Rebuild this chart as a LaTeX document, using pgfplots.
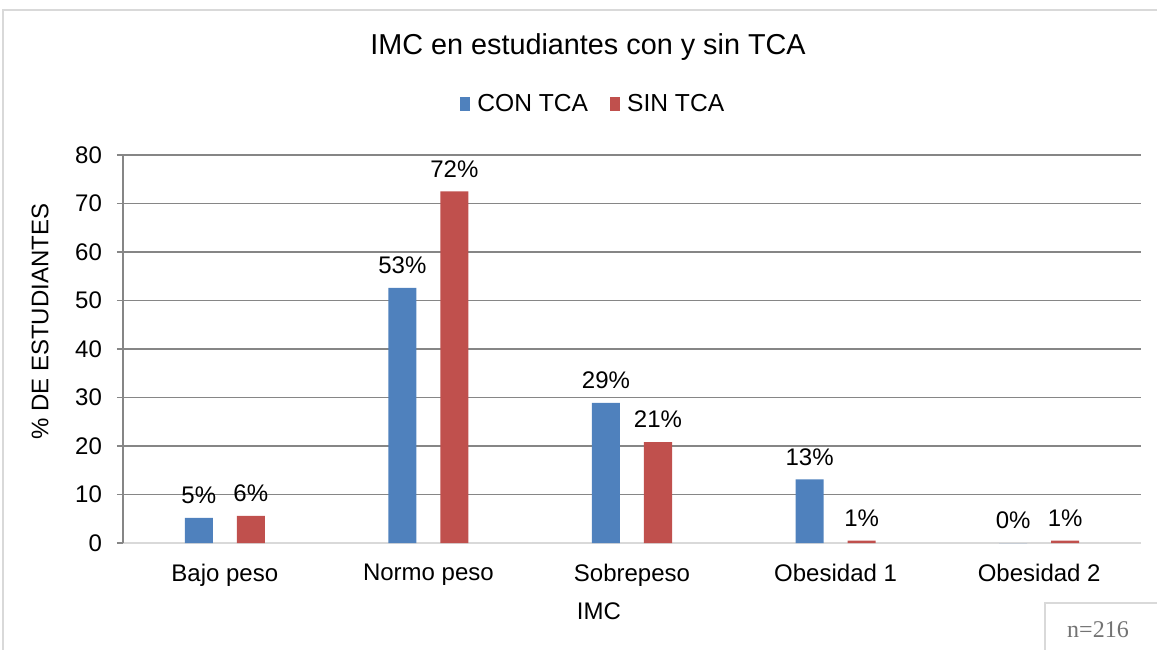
\documentclass[border=0pt]{standalone}
\usepackage{fontspec}
\setmainfont{Liberation Sans}
\newfontfamily\serif{Liberation Serif}
\usepackage{pgfplots}
\pgfplotsset{compat=1.18}
\definecolor{contca}{HTML}{4F81BD}
\definecolor{sintca}{HTML}{C0504D}
\definecolor{gridgray}{HTML}{868686}
\definecolor{framegray}{HTML}{D9D9D9}

\pgfplotsset{sq legend/.style={legend image code/.code={\fill[##1] (0pt,-3.5pt) rectangle (5pt,3.5pt);}}}

\begin{document}
\begin{tikzpicture}
\useasboundingbox (0,0) rectangle (578.5pt,-324.5pt);
\begin{scope}
  \clip (0,0) rectangle (578.5pt,-324.5pt);
  \draw[framegray, line width=0.8pt] (1.5pt,-5pt) rectangle (600pt,-340pt);
  \draw[framegray, line width=0.7pt] (522.5pt,-301.5pt) rectangle (600pt,-340pt);
\end{scope}
\node[font=\serif\fontsize{12}{14}\selectfont, text=black!55] at (549pt,-315pt) {n=216};
\node[font=\fontsize{14.4}{17}\selectfont] at (294pt,-23.5pt) {IMC en estudiantes con y sin TCA};
\begin{axis}[
  at={(61.5pt,-271.5pt)}, anchor=south west,
  width=509pt, height=194pt, scale only axis,
  ybar=12pt, bar width=14pt,
  xmin=-0.5, xmax=4.5, ymin=0, ymax=80,
  xtick={0,...,4},
  xticklabels={Bajo peso, Normo peso, Sobrepeso, Obesidad 1, Obesidad 2},
  ytick={10,20,...,80},
  extra y ticks={0}, extra y tick style={grid=none},
  ymajorgrids, major grid style={gridgray, line width=0.6pt},
  axis x line*=bottom, axis y line*=left,
  x axis line style={framegray, line width=1pt, -},
  y axis line style={gridgray, line width=0.8pt, -},
  tick align=outside, major tick length=3pt,
  xtick style={draw=none},
  ytick style={gridgray, line width=0.8pt},
  tick label style={font=\fontsize{12}{14}\selectfont},
  /pgf/number format/assume math mode=true,
  xticklabel style={yshift=-4pt},
  yticklabel style={xshift=-4pt},
  xlabel={IMC},
  xlabel style={font=\fontsize{12}{14}\selectfont, at={(axis description cs:0.4675,-0.175)}, anchor=center},
  ylabel={\% DE ESTUDIANTES},
  ylabel style={font=\fontsize{12}{14}\selectfont, at={(axis description cs:-0.0815,0.57)}, anchor=center},
  legend style={at={(0.463,1.131)}, anchor=center, draw=none, fill=none,
    legend columns=2, font=\fontsize{12.3}{14}\selectfont,
    /tikz/every odd column/.append style={column sep=1.5pt},
    /tikz/every even column/.append style={column sep=9pt}},
  point meta=explicit symbolic,
  nodes near coords,
  nodes near coords style={font=\fontsize{12}{14}\selectfont, text=black, anchor=south, yshift=3.5pt},
]
\addplot[fill=contca, draw=none, sq legend] coordinates {
  (0,5.2) [5\%]
  (1,52.6) [53\%]
  (2,28.9) [29\%]
  (3,13.1) [13\%]
  (4,0) [0\%]
};
\addplot[fill=sintca, draw=none, sq legend] coordinates {
  (0,5.6) [6\%]
  (1,72.5) [72\%]
  (2,20.8) [21\%]
  (3,0.5) [1\%]
  (4,0.5) [1\%]
};
\legend{CON TCA, SIN TCA}
\end{axis}
\end{tikzpicture}
\end{document}
